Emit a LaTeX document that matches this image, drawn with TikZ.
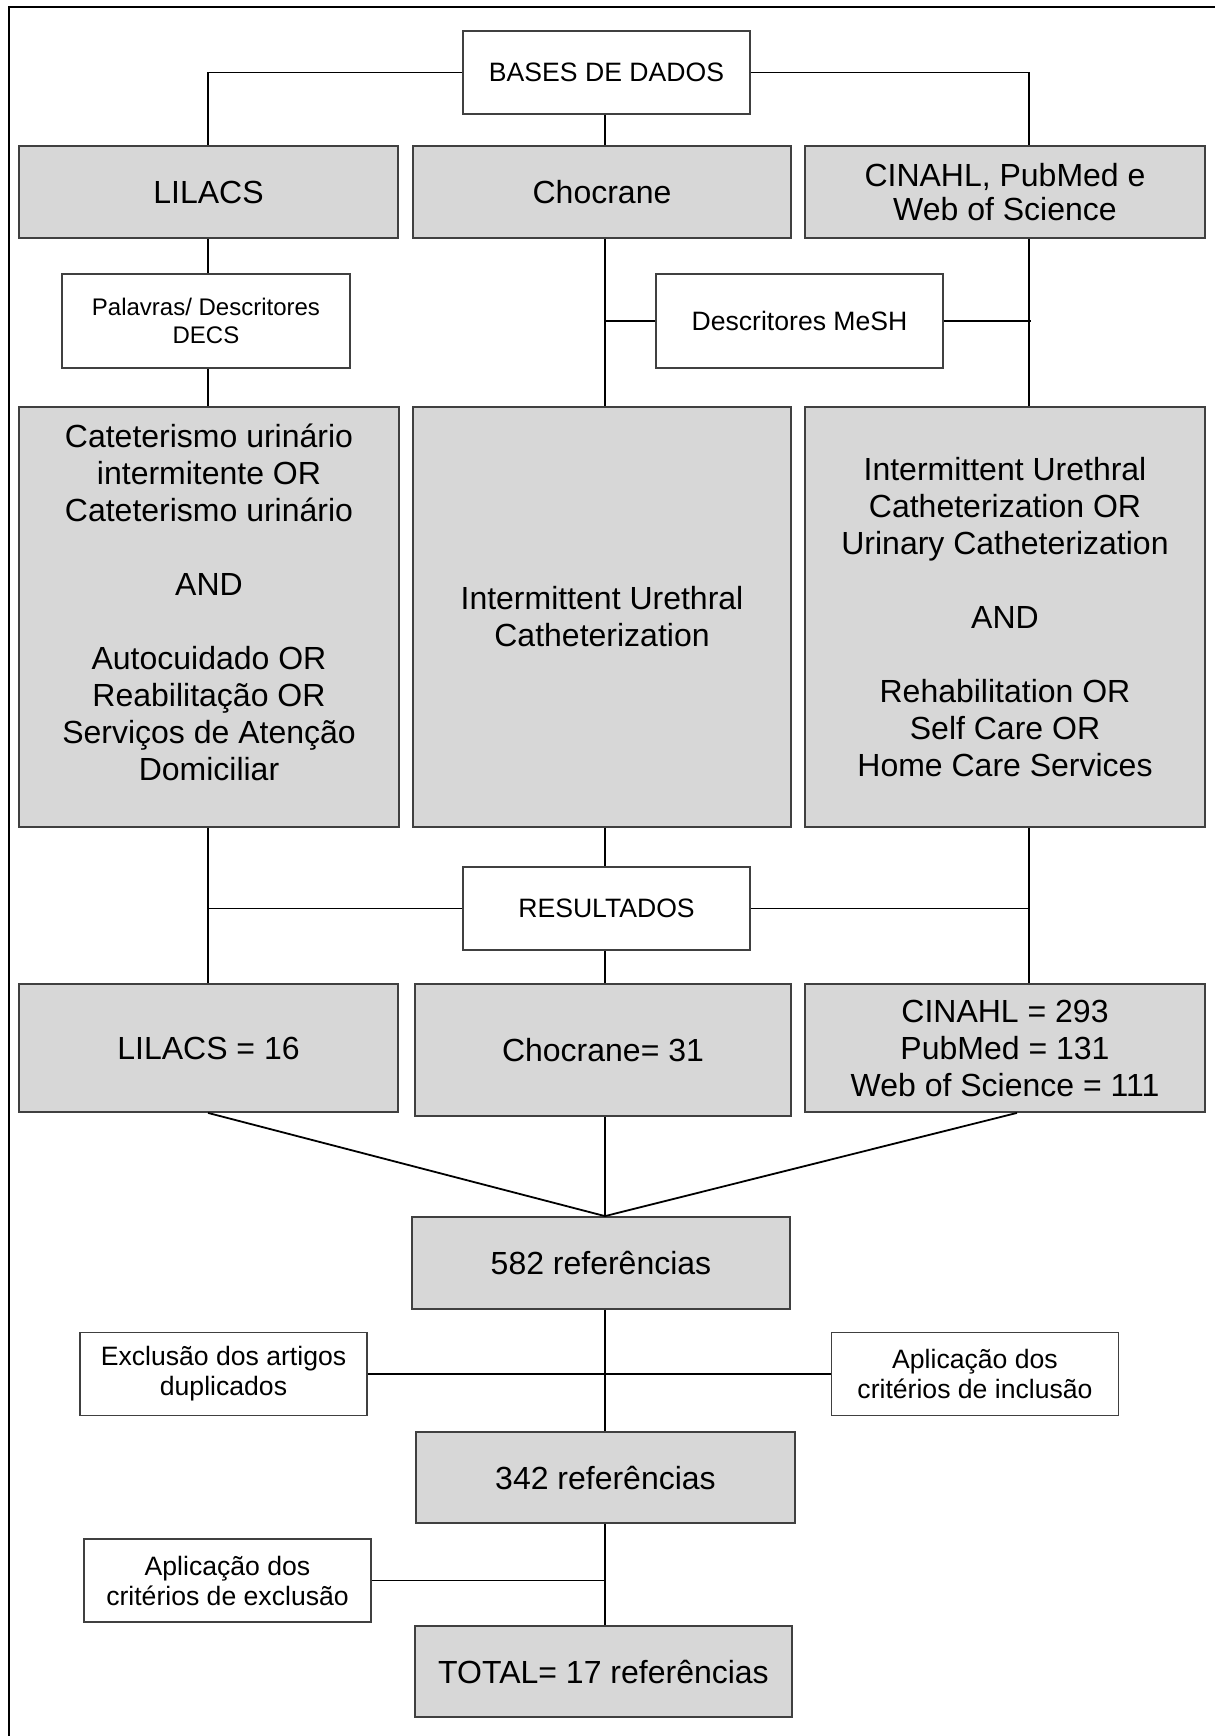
\documentclass[tikz,border=0pt]{standalone}
\usepackage{fontspec}
\setmainfont{Liberation Sans}
\definecolor{boxgray}{RGB}{215,215,215}
\newcommand{\bigsize}{\fontsize{16}{18.5}\selectfont}
\newcommand{\smallsize}{\fontsize{13.3}{15}\selectfont}

\begin{document}
\begin{tikzpicture}[x=0.5pt,y=-0.5pt,
    cell/.style={draw=black!75,line width=0.9pt,fill=boxgray,align=center,font=\bigsize,inner sep=0pt},
    note/.style={draw=black!75,line width=0.9pt,fill=white,align=center,font=\smallsize,inner sep=0pt,minimum width=143.5pt,minimum height=41.5pt},
    link/.style={line width=0.9pt}]
    \useasboundingbox (0,0) rectangle (1215,1736);
    % frame
    \draw[line width=1pt] (9,1736) -- (9,7) -- (1215,7);

    % columns
    \coordinate (spine) at (605,0);
    \coordinate (lcol) at (208,0);
    \coordinate (rcol) at (1029,0);

    % databases
    \node[note] (bd) at (606.5,72.5) {BASES DE DADOS};
    \node[cell,minimum width=189.5pt,minimum height=46pt] (lil) at (208.5,192) {LILACS};
    \node[cell,minimum width=189pt,minimum height=46pt] (cho) at (602,192) {Chocrane};
    \node[cell,minimum width=200pt,minimum height=46pt,font=\fontsize{16}{17.2}\selectfont] (cin) at (1005,192) {CINAHL, PubMed e\\Web of Science};

    % descriptors
    \node[note,minimum width=144pt,minimum height=47pt,font=\fontsize{12}{13.7}\selectfont] (decs) at (206,321) {Palavras/ Descritores\\DECS};
    \node[note,minimum height=47pt] (mesh) at (799.5,321) {Descritores MeSH};

    % search strings
    \node[cell,minimum width=190pt,minimum height=210pt] (lilQ) at (209,617) {};
    \node[align=center,font=\bigsize,inner sep=0pt] (lilQtxt) at ([yshift=7.25pt]lilQ.center) {Cateterismo urinário\\intermitente OR\\Cateterismo urinário\\[18.5pt]AND\\[18.5pt]Autocuidado OR\\Reabilitação OR\\Serviços de Atenção\\Domiciliar};
    \node[cell,minimum width=189pt,minimum height=210pt] (choQ) at (602,617) {Intermittent Urethral\\Catheterization};
    \node[cell,minimum width=200pt,minimum height=210pt] (cinQ) at (1005,617) {Intermittent Urethral\\Catheterization OR\\Urinary Catheterization\\[18.5pt]AND\\[18.5pt]Rehabilitation OR\\Self Care OR\\Home Care Services};

    % results
    \node[note] (res) at (606.5,908.5) {RESULTADOS};
    \node[cell,minimum width=189.5pt,minimum height=64pt] (lilN) at (208.5,1048) {LILACS = 16};
    \node[cell,minimum width=188pt,minimum height=66pt] (choN) at (603,1050) {Chocrane= 31};
    \node[cell,minimum width=200pt,minimum height=64pt] (cinN) at (1005,1048) {CINAHL = 293\\PubMed = 131\\Web of Science = 111};

    % screening
    \node[cell,minimum width=189pt,minimum height=46pt] (r582) at (601,1263) {582 referências};
    \node[note] (dup) at (223.5,1374) {Exclusão dos artigos\\duplicados};
    \node[note] (incl) at (975,1374) {Aplicação dos\\critérios de inclusão};
    \node[cell,minimum width=189.5pt,minimum height=45.5pt] (r342) at (605.5,1477.5) {342 referências};
    \node[note] (excl) at (227.5,1580.5) {Aplicação dos\\critérios de exclusão};
    \node[cell,minimum width=188.5pt,minimum height=45.5pt] (total) at (603.5,1671.5) {TOTAL= 17 referências};

    % top level links
    \draw[link] (bd.west) -| (lcol |- lil.north);
    \draw[link] (bd.east) -| (rcol |- cin.north);
    \draw[link] (spine |- bd.south) -- (spine |- cho.north);
    \draw[link] (lcol |- lil.south) -- (lcol |- decs.north);
    \draw[link] (lcol |- decs.south) -- (lcol |- lilQ.north);
    \draw[link] (spine |- cho.south) -- (spine |- choQ.north);
    \draw[link] (rcol |- cin.south) -- (rcol |- cinQ.north);
    \draw[link] (mesh.west) -- (spine |- mesh.west);
    \draw[link] (mesh.east) -- ([xshift=1pt]rcol |- mesh.east);

    % results links
    \draw[link] (lcol |- lilQ.south) -- (lcol |- lilN.north);
    \draw[link] (spine |- choQ.south) -- (spine |- res.north);
    \draw[link] (spine |- res.south) -- (spine |- choN.north);
    \draw[link] (rcol |- cinQ.south) -- (rcol |- cinN.north);
    \draw[link] (res.west) -- (lcol |- res.west);
    \draw[link] (res.east) -- (rcol |- res.east);

    % merge
    \coordinate (join) at (spine |- r582.north);
    \draw[link] (lcol |- lilN.south) -- (join);
    \draw[link] (spine |- choN.south) -- (join);
    \draw[link] ([xshift=6pt]cinN.south) -- (join);

    % screening links
    \draw[link] (spine |- r582.south) -- (spine |- r342.north);
    \draw[link] (dup.east) -- (incl.west);
    \draw[link] (spine |- r342.south) -- (spine |- total.north);
    \draw[link] (excl.east) -- (spine |- excl.east);
\end{tikzpicture}
\end{document}
